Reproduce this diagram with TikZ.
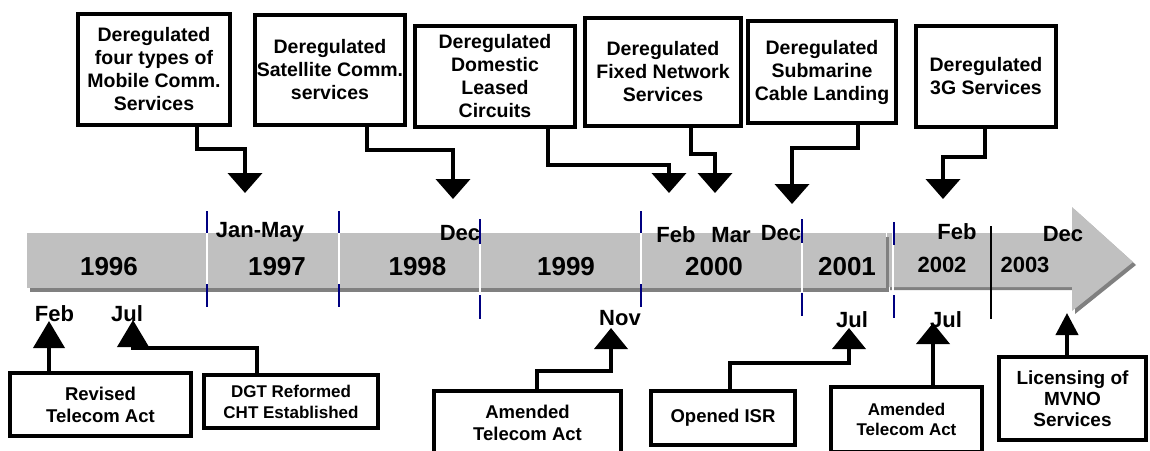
\documentclass[tikz,border=0pt]{standalone}
\usepackage{fontspec}
\setmainfont{Liberation Sans}
\usetikzlibrary{arrows.meta}
\definecolor{barcol}{HTML}{C0C0C0}
\definecolor{shadcol}{HTML}{808080}
\definecolor{tickcol}{HTML}{000080}
\begin{document}
\begin{tikzpicture}[x=1pt,y=-1pt,
  tbox/.style={draw, line width=4pt, inner sep=0pt, align=center, fill=white,
    font=\fontsize{19.5pt}{23pt}\selectfont\bfseries},
  bboxa/.style={draw, line width=4pt, inner sep=0pt, align=center, fill=white,
    font=\fontsize{18.5pt}{22pt}\selectfont\bfseries},
  bboxb/.style={draw, line width=4pt, inner sep=0pt, align=center, fill=white,
    font=\fontsize{17pt}{21pt}\selectfont\bfseries},
  bboxc/.style={draw, line width=4pt, inner sep=0pt, align=center, fill=white,
    font=\fontsize{17pt}{20pt}\selectfont\bfseries},
  bboxd/.style={draw, line width=4pt, inner sep=0pt, align=center, fill=white,
    font=\fontsize{19pt}{21pt}\selectfont\bfseries},
  conn/.style={line width=4pt, line join=miter},
  tipdown/.style={-{Triangle[width=34pt,length=20pt]}},
  tipupbig/.style={-{Triangle[width=31pt,length=27pt]}},
  tipup/.style={-{Triangle[width=33pt,length=21pt]}},
  tipsmall/.style={-{Triangle[width=22pt,length=22pt]}},
  yr/.style={anchor=base, inner sep=0pt, font=\fontsize{26pt}{30pt}\selectfont\bfseries},
  yrs/.style={anchor=base, inner sep=0pt, font=\fontsize{22pt}{26pt}\selectfont\bfseries},
  mon/.style={anchor=base, inner sep=0pt, font=\fontsize{22pt}{26pt}\selectfont\bfseries},
  wline/.style={white, line width=2pt},
  btick/.style={tickcol, line width=2.5pt}
]
\useasboundingbox (0,0) rectangle (1150,450);
\clip (0,0) rectangle (1150,450);
\fill[white] (0,0) rectangle (1150,450);

% ---- timeline bar ----
\fill[shadcol] (890,236) -- (1075,236) -- (1075,210) -- (1136,265) -- (1075,314) -- (1075,290) -- (890,290) -- cycle;
\fill[barcol] (887,233) -- (1072,233) -- (1072,207) -- (1133,262) -- (1072,311) -- (1072,287) -- (887,287) -- cycle;
\fill[shadcol] (30,237) rectangle (889,292);
\fill[barcol] (27,233) rectangle (886,288);

\foreach \x in {207,339,480,641,802,893} { \draw[wline] (\x,233) -- (\x,292); }

\draw[btick] (207,211) -- (207,233);  \draw[btick] (207,284) -- (207,307);
\draw[btick] (339,211) -- (339,233);  \draw[btick] (339,284) -- (339,307);
\draw[btick] (480,219) -- (480,244);  \draw[btick] (480,295) -- (480,319);
\draw[btick] (641,211) -- (641,233);  \draw[btick] (641,284) -- (641,307);
\draw[btick] (802,219) -- (802,243);  \draw[btick] (802,293) -- (802,316);
\draw[btick] (894,222) -- (894,245);  \draw[btick] (894,295) -- (894,318);
\draw[black, line width=1.3pt] (991,226) -- (991,319);

% ---- years ----
\node[yr] (y1996) at (109,275) {1996};
\node[yr] (y1997) at (277,275) {1997};
\node[yr] (y1998) at (417.5,275) {1998};
\node[yr] (y1999) at (566,275) {1999};
\node[yr] (y2000) at (714,275) {2000};
\node[yr] (y2001) at (847,275) {2001};
\node[yrs] (y2002) at (942,272) {2002};
\node[yrs] (y2003) at (1025,272) {2003};

% ---- months above ----
\node[mon] (mjan) at (260,237) {Jan-May};
\node[mon] (mdec98) at (460,240) {Dec};
\node[mon] (mfeb00) at (676,242) {Feb};
\node[mon] (mmar00) at (731,242) {Mar};
\node[mon] (mdec00) at (781,240) {Dec};
\node[mon] (mfeb02) at (957,239) {Feb};
\node[mon] (mdec03) at (1063,241) {Dec};

% ---- months below ----
\node[mon] (mfeb96) at (54.5,321) {Feb};
\node[mon] (mjul96) at (127,321) {Jul};
\node[mon] (mnov99) at (620,325) {Nov};
\node[mon] (mjul01) at (852,327) {Jul};
\node[mon] (mjul02) at (946,327) {Jul};

% ---- top boxes ----
\node[tbox, minimum width=152pt, minimum height=111pt] (b1) at (154,69.5) {Deregulated\\four types of\\Mobile Comm.\\Services};
\node[tbox, minimum width=150pt, minimum height=110pt] (b2) at (330,70) {Deregulated\\Satellite Comm.\\services};
\node[tbox, minimum width=160pt, minimum height=101pt] (b3) at (495,76.5) {Deregulated\\Domestic\\Leased\\Circuits};
\node[tbox, minimum width=156pt, minimum height=108pt] (b4) at (663,72) {Deregulated\\Fixed Network\\Services};
\node[tbox, minimum width=148pt, minimum height=102pt] (b5) at (822,72) {Deregulated\\Submarine\\Cable Landing};
\node[tbox, minimum width=140pt, minimum height=101pt] (b6) at (986,76.5) {Deregulated\\3G Services};

% ---- bottom boxes ----
\node[bboxa, minimum width=181pt, minimum height=63pt] (r1) at (100.5,404.5) {Revised\\Telecom Act};
\node[bboxb, minimum width=174pt, minimum height=53pt] (r2) at (291,401.5) {DGT Reformed\\CHT Established};
\node[bboxa, minimum width=187pt, minimum height=63pt] (r3) at (527.5,422.5) {Amended\\Telecom Act};
\node[bboxa, minimum width=144pt, minimum height=54pt] (r4) at (723,418) {Opened ISR};
\node[bboxc, minimum width=151pt, minimum height=65pt] (r5) at (906.5,419.5) {Amended\\Telecom Act};
\node[bboxd, minimum width=147pt, minimum height=83pt] (r6) at (1072.5,398.5) {Licensing of\\MVNO\\Services};

% ---- arrow targets ----
\coordinate (t1) at (245,193);
\coordinate (t2) at (453,199);
\coordinate (t3) at (669,193);
\coordinate (t4) at (715,193);
\coordinate (t5) at (792,204);
\coordinate (t6) at (943,199);
\coordinate (u1) at (49,321);
\coordinate (u2) at (133,320);
\coordinate (u3) at (611,328);
\coordinate (u4) at (849,328);
\coordinate (u5) at (933,323);
\coordinate (u6) at (1067,313);

% ---- top connectors ----
\draw[conn, tipdown] ([xshift=43pt]b1.south) -- ++(0,22) -| (t1);
\draw[conn, tipdown] ([xshift=37pt]b2.south) -- ++(0,23) -| (t2);
\draw[conn, tipdown] ([xshift=53pt]b3.south) -- ++(0,36) -| (t3);
\draw[conn, tipdown] ([xshift=28pt]b4.south) -- ++(0,26) -| (t4);
\draw[conn, tipdown] ([xshift=36pt]b5.south) -- ++(0,23) -| (t5);
\draw[conn, tipdown] ([xshift=-1pt]b6.south) -- ++(0,28) -| (t6);

% ---- bottom connectors ----
\draw[conn, tipupbig] ([xshift=-51.5pt]r1.north) -- (u1);
\draw[conn, tipupbig] ([xshift=-34pt]r2.north) -- ++(0,-25) -| (u2);
\draw[conn, tipup] ([xshift=9.5pt]r3.north) -- ++(0,-18) -| (u3);
\draw[conn, tipup] ([xshift=7pt]r4.north) -- ++(0,-26) -| (u4);
\draw[conn, tipup] ([xshift=26.5pt]r5.north) -- (u5);
\draw[conn, tipsmall] ([xshift=-5.5pt]r6.north) -- (u6);
\end{tikzpicture}
\end{document}
